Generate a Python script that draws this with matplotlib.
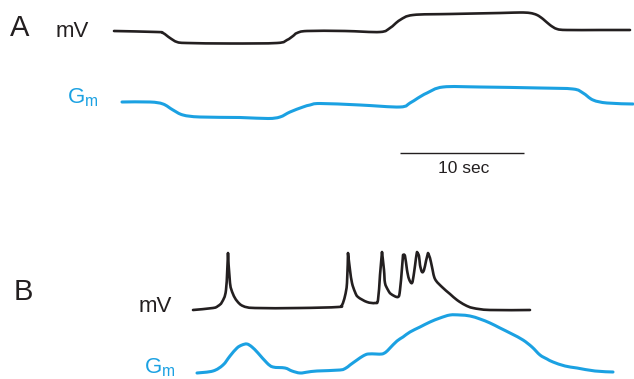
import matplotlib
matplotlib.use("Agg")
import matplotlib.pyplot as plt
from matplotlib.path import Path
from matplotlib.patches import PathPatch

plt.rcParams['font.family'] = ['Liberation Sans', 'DejaVu Sans']
plt.rcParams['mathtext.fontset'] = 'custom'
plt.rcParams['mathtext.rm'] = 'Liberation Sans'
plt.rcParams['mathtext.it'] = 'Liberation Sans'

BLACK = '#231f20'
BLUE = '#1ba1e2'

# Panel A membrane potential trace (x, y in figure pixels)
a_mv_x = [114, 157, 163, 170, 177, 187, 230, 277, 287, 293, 297, 307, 345, 380, 390, 400, 413, 450, 500, 520, 530, 537, 543, 550, 557, 567, 600, 630]
a_mv_y = [31, 32, 33, 38, 42, 43, 43.5, 43, 40, 36, 33, 31, 31, 32, 28, 20, 15, 14, 13, 12.5, 13, 15, 19, 25, 29, 30, 30, 30]

# Panel A conductance trace
a_gm_x = [122, 150, 163, 173, 183, 200, 240, 268, 280, 290, 303, 310, 320, 360, 400, 410, 418, 427, 443, 480, 540, 573, 583, 593, 607, 633]
a_gm_y = [102, 102, 104, 110, 115, 117, 117.5, 118.5, 117, 112, 107, 105, 103.5, 105, 107, 103, 98, 93, 87, 87, 88, 89, 93, 100, 103, 104]

# Panel B membrane potential trace (spikes)
b_mv_x = [193, 213, 218, 222, 226, 228, 230, 233, 237, 243, 255, 300, 338, 342, 345, 347, 348, 350, 352, 355, 358, 367, 375, 378,
          380, 382, 384, 385, 388, 391, 398, 400, 402, 403, 405, 407, 409, 412, 414, 416, 417, 419, 420, 422, 424, 426, 428, 430,
          432, 435, 442, 450, 457, 465, 473, 490, 530]
b_mv_y = [310, 308, 306, 302, 290, 253, 283, 294, 301, 306, 308, 308, 307, 305, 296, 283, 253, 270, 283, 292, 297, 302, 303, 300,
          275, 252, 270, 283, 290, 294, 297, 290, 268, 255, 256, 270, 279, 283, 273, 258, 252, 256, 265, 272, 270, 261, 253, 258,
          267, 279, 287, 294, 300, 305, 308, 310, 310]

# Panel B conductance trace
b_gm_x = [197, 213, 223, 230, 237, 242, 247, 252, 258, 267, 273, 285, 292, 300, 308, 317, 340, 346, 350, 357, 363, 368, 376, 382,
          386, 390, 397, 403, 410, 420, 430, 440, 450, 460, 470, 480, 490, 500, 512, 523, 532, 540, 547, 553, 565, 577, 595, 613]
b_gm_y = [373, 371, 365, 356, 348, 345, 344, 347, 353, 363, 367, 368, 371, 373, 372, 371, 370, 368, 365, 360, 356, 354, 354, 354,
          352, 348, 341, 337, 332, 327, 322, 318, 315, 315, 316, 319, 323, 328, 334, 340, 347, 355, 359, 362, 366, 368, 371, 372]

# Scale bar
scale_x = [400, 524]
scale_y = [153, 153]
scale_label = '10 sec'

W, H = 634, 379
fig = plt.figure(figsize=(W / 100, H / 100), dpi=100)
ax = fig.add_axes([0, 0, 1, 1])
ax.set_xlim(0, W)
ax.set_ylim(H, 0)
ax.axis('off')


def smooth_trace(ax, xs, ys, color, lw, sharp=()):
    """Draw a trace through the given points as a smooth Bezier path (Catmull-Rom style)."""
    pts = list(zip(xs, ys))
    n = len(pts)
    verts = [pts[0]]
    codes = [Path.MOVETO]
    for i in range(n - 1):
        p0 = pts[i - 1] if i > 0 else pts[i]
        p1 = pts[i]
        p2 = pts[i + 1]
        p3 = pts[i + 2] if i + 2 < n else pts[i + 1]
        k1 = 0.0 if i in sharp else 1 / 6
        k2 = 0.0 if (i + 1) in sharp else 1 / 6
        c1 = (p1[0] + (p2[0] - p0[0]) * k1, p1[1] + (p2[1] - p0[1]) * k1)
        c2 = (p2[0] - (p3[0] - p1[0]) * k2, p2[1] - (p3[1] - p1[1]) * k2)
        verts += [c1, c2, p2]
        codes += [Path.CURVE4] * 3
    patch = PathPatch(Path(verts, codes), facecolor='none', edgecolor=color, lw=lw,
                      joinstyle='round', capstyle='round')
    ax.add_patch(patch)


smooth_trace(ax, a_mv_x, a_mv_y, BLACK, 1.9)
smooth_trace(ax, a_gm_x, a_gm_y, BLUE, 2.2)
peaks = tuple(i for i in range(1, len(b_mv_y) - 1) if b_mv_y[i] < b_mv_y[i - 1] and b_mv_y[i] < b_mv_y[i + 1] and b_mv_y[i] < 262)
smooth_trace(ax, b_mv_x, b_mv_y, BLACK, 1.9, sharp=peaks)
smooth_trace(ax, b_gm_x, b_gm_y, BLUE, 2.2)
ax.plot(scale_x, scale_y, color=BLACK, lw=1.0, solid_capstyle='butt')

ax.text(464, 173, scale_label, fontsize=12.5, color=BLACK, ha='center', va='baseline')

ax.text(10, 36, 'A', fontsize=21, color=BLACK, ha='left', va='baseline')
ax.text(56, 37, 'mV', fontsize=16, color=BLACK, ha='left', va='baseline')
ax.text(67, 103, r'$\mathrm{G_m}$', fontsize=16, color=BLUE, ha='left', va='baseline')

ax.text(14, 300, 'B', fontsize=21, color=BLACK, ha='left', va='baseline')
ax.text(139, 312, 'mV', fontsize=16, color=BLACK, ha='left', va='baseline')
ax.text(144, 373, r'$\mathrm{G_m}$', fontsize=16, color=BLUE, ha='left', va='baseline')

fig.savefig('out.png', dpi=100)
